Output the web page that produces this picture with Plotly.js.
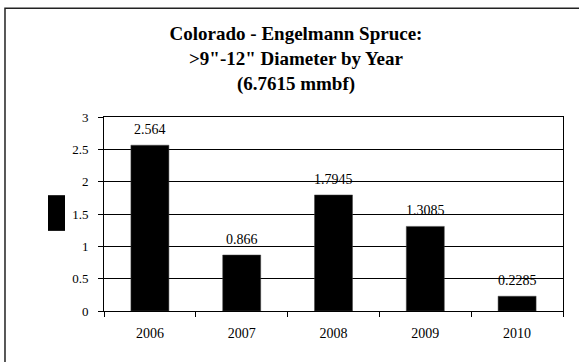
<!DOCTYPE html>
<html>
<head>
<meta charset="utf-8">
<script src="https://cdn.plot.ly/plotly-3.0.1.min.js"></script>
<style>html,body{margin:0;padding:0;background:#fff;}#chart{width:579px;height:362px;}</style>
</head>
<body>
<div id="chart"></div>
<script>
const years = ['2006', '2007', '2008', '2009', '2010'];
const volumes = [2.564, 0.866, 1.7945, 1.3085, 0.2285];
const volumeLabels = ['2.564', '0.866', '1.7945', '1.3085', '0.2285'];
const yTicks = [0, 0.5, 1, 1.5, 2, 2.5, 3];
const yTickLabels = ['0', '0.5', '1', '1.5', '2', '2.5', '3'];
const titleText = '<b>Colorado - Engelmann Spruce:</b><br><b>&gt;9"-12" Diameter by Year</b><br><b>(6.7615 mmbf)</b>';

const serif = '"Times New Roman", "Liberation Serif", serif';

const trace = {
  type: 'bar',
  x: years,
  y: volumes,
  marker: {color: '#000', line: {color: '#444', width: 0.5}},
  hoverinfo: 'none',
  showlegend: false
};

const labelAnnotations = years.map((yr, i) => ({
  x: i,
  y: volumes[i],
  xref: 'x',
  yref: 'y',
  text: volumeLabels[i],
  showarrow: false,
  yanchor: 'bottom',
  yshift: 6,
  font: {family: serif, size: 14, color: '#000'}
}));

const layout = {
  width: 579,
  height: 362,
  margin: {l: 104, r: 16, t: 117, b: 51, pad: 0},
  paper_bgcolor: '#fff',
  plot_bgcolor: '#fff',
  bargap: 0.586,
  showlegend: false,
  title: {
    text: titleText,
    font: {family: serif, size: 19, color: '#000'},
    x: 296 / 579,
    xanchor: 'center',
    xref: 'container',
    y: 0.8885,
    yanchor: 'top',
    yref: 'container'
  },
  xaxis: {
    type: 'category',
    showline: true,
    linecolor: '#000',
    linewidth: 1,
    mirror: true,
    ticks: 'outside',
    tickson: 'boundaries',
    ticklen: 5,
    tickcolor: '#000',
    showgrid: false,
    ticklabelstandoff: 9,
    tickfont: {family: serif, size: 14, color: '#000'},
    fixedrange: true
  },
  yaxis: {
    range: [0, 3],
    tickvals: yTicks,
    ticktext: yTickLabels,
    showline: true,
    linecolor: '#000',
    linewidth: 1,
    mirror: true,
    ticks: 'outside',
    ticklen: 5,
    tickcolor: '#000',
    showgrid: true,
    gridcolor: '#000',
    gridwidth: 1,
    zeroline: false,
    ticklabelstandoff: 7,
    tickfont: {family: serif, size: 13, color: '#000'},
    fixedrange: true
  },
  annotations: labelAnnotations,
  shapes: [
    {type: 'rect', xref: 'paper', yref: 'paper', x0: -0.2157, x1: 1.06, y0: -0.28, y1: 1.56,
     line: {color: '#222', width: 1.5}, fillcolor: 'rgba(0,0,0,0)', layer: 'above'},
    {type: 'rect', xref: 'paper', yref: 'paper', x0: -0.122, x1: -0.085, y0: 0.413, y1: 0.597,
     line: {width: 0}, fillcolor: '#000'}
  ]
};

Plotly.newPlot('chart', [trace], layout, {displayModeBar: false, staticPlot: true});
</script>
</body>
</html>
